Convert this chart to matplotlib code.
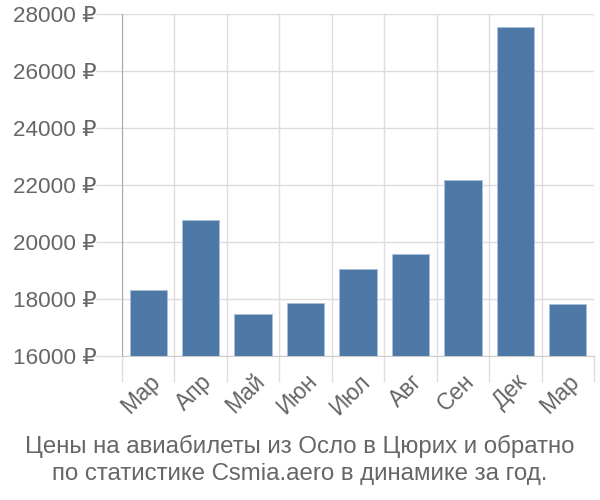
import matplotlib
matplotlib.use("Agg")
import matplotlib.pyplot as plt
import numpy as np

# data
months = ["Мар", "Апр", "Май", "Июн", "Июл", "Авг", "Сен", "Дек", "Мар"]
prices = [18300, 20770, 17470, 17850, 19040, 19570, 22190, 27550, 17840]
yticks = [16000, 18000, 20000, 22000, 24000, 26000, 28000]

BAR = "#4e79a7"
TEXT = "#666666"
GRID = "#dddddd"

plt.rcParams["font.family"] = ["Liberation Sans", "DejaVu Sans"]

fig = plt.figure(figsize=(6, 5), dpi=100)
ax = fig.add_axes([0.2033, 0.288, 0.7867, 0.684])

x = np.arange(len(months))
ax.bar(x, prices, width=0.71, color=BAR, edgecolor="#a9c0dc", linewidth=0.6,
       zorder=3)

ax.set_xlim(-0.5, len(months) - 0.5)
ax.set_ylim(yticks[0], yticks[-1])

ax.set_yticks(yticks)
ax.set_yticklabels([f"{v} ₽" for v in yticks], fontsize=16.2, color=TEXT)
ax.tick_params(axis="y", length=19, color=GRID, width=1, pad=-1)

ax.set_xticks(x)
ax.set_xticklabels(months, rotation=45, ha="right", va="top",
                   rotation_mode="anchor", fontsize=16.5, color=TEXT)
ax.tick_params(axis="x", which="major", length=0, pad=10)
ax.set_xticks(np.arange(len(months) + 1) - 0.5, minor=True)
ax.tick_params(axis="x", which="minor", length=19, color=GRID, width=1)

ax.grid(True, which="minor", axis="x", color=GRID, linewidth=1, zorder=0)
ax.grid(True, which="major", axis="y", color=GRID, linewidth=1, zorder=0)

for side in ["top", "right"]:
    ax.spines[side].set_visible(False)
ax.spines["left"].set_color("#aaaaaa")
ax.spines["bottom"].set_color("#cccccc")

fig.text(0.5, 0.08, "Цены на авиабилеты из Осло в Цюрих и обратно\n"
         "по статистике Csmia.aero в динамике за год.",
         ha="center", va="center", fontsize=17.3, color=TEXT, linespacing=1.25)

fig.savefig("out.png", facecolor="white")
